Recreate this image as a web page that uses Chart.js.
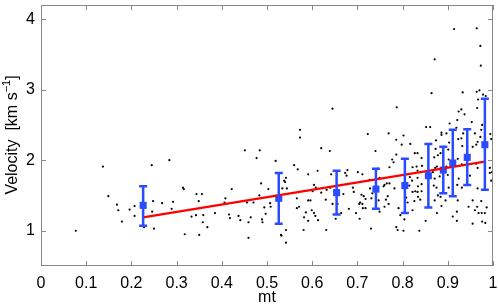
<!DOCTYPE html>
<html>
<head>
<meta charset="utf-8">
<script src="https://cdn.jsdelivr.net/npm/chart.js"></script>
<style>
  html, body { margin: 0; padding: 0; background: #fff; }
  canvas { display: block; }
</style>
</head>
<body>
<canvas id="chart" width="498" height="306"></canvas>
<script>
// axis ticks
const xTicks = [0, 0.1, 0.2, 0.3, 0.4, 0.5, 0.6, 0.7, 0.8, 0.9, 1];
const yTicks = [1, 2, 3, 4];

// individual measurements (black dots)
const dotX = [
  0.137, 0.245, 0.284, 0.149, 0.168, 0.171, 0.179, 0.196, 0.207, 0.207, 0.077, 0.228, 0.250, 0.248, 0.246, 0.268,
  0.292, 0.289, 0.314, 0.316, 0.344, 0.349, 0.333, 0.343, 0.318, 0.350,
  0.573, 0.620, 0.451, 0.484, 0.477, 0.519, 0.560, 0.568, 0.591, 0.612, 0.542, 0.538, 0.540, 0.487, 0.604, 0.608,
  0.534, 0.544, 0.503, 0.601, 0.620, 0.632, 0.422, 0.356, 0.483, 0.408, 0.406, 0.456, 0.470, 0.507, 0.508, 0.494,
  0.566, 0.591, 0.596, 0.630, 0.571, 0.566, 0.586, 0.599, 0.604, 0.607, 0.582, 0.591, 0.613, 0.497, 0.464, 0.489,
  0.490, 0.441, 0.437, 0.459, 0.416, 0.418, 0.385, 0.359, 0.358, 0.368, 0.459, 0.532, 0.542, 0.542, 0.581, 0.631,
  0.723, 0.769, 0.802, 0.786, 0.798, 0.817, 0.827, 0.740, 0.786, 0.639, 0.777, 0.780, 0.745, 0.771, 0.822, 0.831,
  0.678, 0.673, 0.676, 0.642, 0.701, 0.711, 0.727, 0.749, 0.760, 0.765, 0.771, 0.758, 0.782, 0.816, 0.821, 0.815,
  0.828, 0.822, 0.640, 0.649, 0.690, 0.692, 0.669, 0.709, 0.714, 0.718, 0.731, 0.733, 0.728, 0.763, 0.767, 0.747,
  0.760, 0.769, 0.706, 0.704, 0.711, 0.712, 0.718, 0.681, 0.697, 0.664, 0.656, 0.645, 0.749, 0.791, 0.808, 0.811,
  0.826, 0.822, 0.795, 0.804, 0.705, 0.652, 0.730, 0.786, 0.789, 0.802,
  0.965, 0.924, 0.930, 0.937, 0.921, 0.904, 0.953, 0.976, 0.852, 0.861, 0.919, 0.886, 0.897, 0.886, 0.934, 0.960,
  0.974, 0.874, 0.923, 0.930, 0.903, 0.963, 0.966, 0.955, 0.972, 0.833, 0.873, 0.884, 0.901, 0.932, 0.842, 0.870,
  0.878, 0.843, 0.833, 0.872, 0.876, 0.867, 0.902, 0.897, 0.922, 0.931, 0.963, 0.966, 0.993, 0.998, 0.833, 0.871,
  0.882, 0.900, 0.924, 0.949, 0.993, 0.834, 0.842, 0.869, 0.875, 0.902, 0.921, 0.931, 0.966, 0.996, 0.842, 0.833,
  0.878, 0.884, 0.871, 0.895, 0.839, 0.834, 0.922, 0.955, 0.946, 0.965, 0.974, 0.986, 0.960, 0.968, 0.975, 0.982,
  0.920, 0.886, 0.876, 0.851, 0.911, 0.920, 0.955, 0.983, 0.837,
  0.914, 0.964, 0.972, 0.973, 0.871, 0.864, 0.933, 0.970, 0.964, 0.978, 0.984, 0.967, 0.645, 0.787, 0.573, 0.994,
  0.996, 0.531, 0.976
];
const dotY = [
  1.91, 1.93, 2.00, 1.49, 1.37, 1.29, 1.13, 1.30, 1.35, 1.21, 1.00, 1.05, 1.03, 1.42, 1.27, 1.39,
  1.41, 1.31, 1.61, 1.59, 1.52, 1.42, 1.20, 1.22, 0.95, 0.94,
  2.32, 2.17, 2.14, 2.14, 2.03, 1.99, 1.93, 1.87, 1.80, 1.85, 1.75, 1.71, 1.69, 1.67, 1.65, 1.61,
  1.60, 1.60, 1.59, 1.56, 1.54, 1.58, 1.59, 1.52, 1.50, 1.46, 1.40, 1.40, 1.40, 1.39, 1.34, 1.33,
  1.46, 1.43, 1.43, 1.44, 1.34, 1.32, 1.26, 1.29, 1.25, 1.21, 1.19, 1.14, 1.15, 1.24, 1.19, 1.16,
  1.12, 1.15, 1.21, 1.12, 1.23, 1.18, 1.25, 1.22, 1.12, 1.05, 0.90, 0.93, 1.01, 0.83, 1.01, 1.01,
  2.37, 2.38, 2.35, 2.29, 2.22, 2.23, 2.10, 2.13, 2.08, 2.13, 2.01, 1.97, 1.88, 1.90, 1.90, 1.91,
  1.86, 1.82, 1.78, 1.80, 1.83, 1.80, 1.72, 1.75, 1.65, 1.67, 1.67, 1.63, 1.60, 1.76, 1.71, 1.64,
  1.56, 1.55, 1.61, 1.56, 1.61, 1.55, 1.52, 1.51, 1.49, 1.45, 1.46, 1.53, 1.60, 1.44, 1.49, 1.43,
  1.34, 1.38, 1.40, 1.38, 1.38, 1.32, 1.32, 1.31, 1.25, 1.25, 1.38, 1.38, 1.27, 1.32, 1.47, 1.40,
  1.42, 1.29, 1.22, 1.16, 1.17, 1.17, 1.03, 1.05, 1.01, 1.00,
  2.74, 2.69, 2.72, 2.65, 2.57, 2.52, 2.54, 2.50, 2.47, 2.47, 2.46, 2.39, 2.38, 2.36, 2.38, 2.38,
  2.43, 2.28, 2.30, 2.31, 2.25, 2.22, 2.26, 2.19, 2.33, 2.10, 2.16, 2.10, 2.15, 2.20, 2.03, 2.04,
  2.07, 1.92, 1.85, 1.89, 1.91, 1.83, 2.01, 1.91, 2.02, 1.94, 1.95, 1.89, 1.89, 1.83, 1.75, 1.74,
  1.77, 1.79, 1.74, 1.78, 1.82, 1.63, 1.66, 1.64, 1.61, 1.61, 1.65, 1.61, 1.60, 1.71, 1.56, 1.55,
  1.50, 1.48, 1.43, 1.43, 1.44, 1.48, 1.43, 1.43, 1.34, 1.34, 1.42, 1.33, 1.29, 1.25, 1.25, 1.25,
  1.27, 1.35, 1.25, 1.14, 1.20, 1.14, 1.10, 1.11, 1.00,
  3.86, 3.87, 3.62, 3.34, 3.43, 2.95, 2.96, 2.99, 2.97, 2.93, 2.91, 2.86, 2.73, 2.75, 2.43, 2.37,
  2.30, 0.94, 1.13
];

// binned means with error bars (blue)
const binX    = [0.226, 0.526, 0.654, 0.741, 0.805, 0.857, 0.890, 0.911, 0.943, 0.982];
const binMean = [1.36, 1.46, 1.54, 1.59, 1.64, 1.78, 1.86, 1.96, 2.04, 2.22];
const binLow  = [1.07, 1.10, 1.23, 1.31, 1.25, 1.33, 1.53, 1.49, 1.65, 1.58];
const binHigh = [1.63, 1.82, 1.85, 1.88, 2.02, 2.23, 2.19, 2.43, 2.44, 2.87];

// linear fit (red)
const fitX = [0.226, 0.982];
const fitY = [1.19, 1.98];

const FONT = "'Liberation Sans', Arial, Helvetica, sans-serif";
const BLUE = '#2a4bff';
const FRAME = '#888888';

function pts(xs, ys) {
    return xs.map((x, i) => ({ x: x, y: ys[i] }));
}

function noPad(s) {
    s.paddingTop = 0;
    s.paddingBottom = 0;
    s.paddingLeft = 0;
    s.paddingRight = 0;
}

// error bars, frame, inward ticks and axis titles
const decorPlugin = {
    id: 'decor',
    afterDatasetsDraw(chart) {
        const ctx = chart.ctx;
        const xs = chart.scales.x;
        const ys = chart.scales.y;
        ctx.save();
        ctx.strokeStyle = BLUE;
        ctx.lineWidth = 2.5;
        binX.forEach((bx, i) => {
            const px = xs.getPixelForValue(bx);
            const lo = ys.getPixelForValue(binLow[i]);
            const hi = ys.getPixelForValue(binHigh[i]);
            ctx.beginPath();
            ctx.moveTo(px, lo); ctx.lineTo(px, hi);
            ctx.moveTo(px - 4, lo); ctx.lineTo(px + 4, lo);
            ctx.moveTo(px - 4, hi); ctx.lineTo(px + 4, hi);
            ctx.stroke();
        });
        ctx.restore();
    },
    afterDraw(chart) {
        const ctx = chart.ctx;
        const a = chart.chartArea;
        const xs = chart.scales.x;
        const ys = chart.scales.y;
        ctx.save();
        ctx.strokeStyle = FRAME;
        ctx.lineWidth = 1;
        ctx.strokeRect(Math.round(a.left) + 0.5, Math.round(a.top) + 0.5,
            Math.round(a.right - a.left) - 1, Math.round(a.bottom - a.top) - 1);
        ctx.beginPath();
        xTicks.forEach(v => {
            const px = Math.round(xs.getPixelForValue(v)) + 0.5;
            ctx.moveTo(px, a.bottom); ctx.lineTo(px, a.bottom - 5);
            ctx.moveTo(px, a.top); ctx.lineTo(px, a.top + 5);
        });
        yTicks.forEach(v => {
            const py = Math.round(ys.getPixelForValue(v)) + 0.5;
            ctx.moveTo(a.left, py); ctx.lineTo(a.left + 5, py);
            ctx.moveTo(a.right, py); ctx.lineTo(a.right - 5, py);
        });
        ctx.stroke();

        // axis titles
        ctx.fillStyle = '#000';
        ctx.font = '16px ' + FONT;
        ctx.textAlign = 'center';
        ctx.textBaseline = 'middle';
        ctx.fillText('mt', (a.left + a.right) / 2, 298);

        ctx.translate(13, 135);
        ctx.rotate(-Math.PI / 2);
        const main = 'Velocity  [km s';
        const sup = '\u22121';
        const tail = ']';
        ctx.font = '16px ' + FONT;
        const wMain = ctx.measureText(main).width;
        const wTail = ctx.measureText(tail).width;
        ctx.font = '11px ' + FONT;
        const wSup = ctx.measureText(sup).width;
        let x0 = -(wMain + wSup + wTail) / 2;
        ctx.textAlign = 'left';
        ctx.font = '16px ' + FONT;
        ctx.fillText(main, x0, 0);
        ctx.font = '11px ' + FONT;
        ctx.fillText(sup, x0 + wMain, -6);
        ctx.font = '16px ' + FONT;
        ctx.fillText(tail, x0 + wMain + wSup, 0);
        ctx.restore();
    }
};

new Chart(document.getElementById('chart'), {
    type: 'scatter',
    data: {
        datasets: [
            {
                label: 'Fit',
                type: 'line',
                data: pts(fitX, fitY),
                borderColor: '#ff0000',
                borderWidth: 2.2,
                pointRadius: 0,
                fill: false,
                tension: 0,
                order: 0
            },
            {
                label: 'Bins',
                data: pts(binX, binMean),
                pointStyle: 'rect',
                pointRadius: 5,
                backgroundColor: BLUE,
                borderColor: BLUE,
                borderWidth: 0,
                order: 1
            },
            {
                label: 'Data',
                data: pts(dotX, dotY),
                pointRadius: 1.1,
                backgroundColor: '#000',
                borderWidth: 0,
                order: 3
            }
        ]
    },
    options: {
        responsive: false,
        animation: false,
        devicePixelRatio: 1,
        layout: { padding: { top: 1, right: 3, left: 0, bottom: 0 } },
        plugins: {
            legend: { display: false },
            tooltip: { enabled: false }
        },
        scales: {
            x: {
                type: 'linear',
                min: 0,
                max: 1,
                grid: { display: false, drawTicks: false },
                border: { display: false },
                afterBuildTicks: s => { s.ticks = xTicks.map(v => ({ value: v })); },
                afterFit: s => { s.height = 40; noPad(s); },
                ticks: {
                    color: '#000',
                    padding: 8,
                    maxRotation: 0,
                    autoSkip: false,
                    font: { family: FONT, size: 16 },
                    callback: v => String(Number(v.toFixed(1)))
                }
            },
            y: {
                type: 'linear',
                min: 0.5,
                max: 4.2,
                grid: { display: false, drawTicks: false },
                border: { display: false },
                afterBuildTicks: s => { s.ticks = yTicks.map(v => ({ value: v })); },
                afterFit: s => { s.width = 41; noPad(s); },
                ticks: {
                    color: '#000',
                    padding: 6,
                    font: { family: FONT, size: 16 },
                    callback: v => String(v)
                }
            }
        }
    },
    plugins: [decorPlugin]
});
</script>
</body>
</html>
